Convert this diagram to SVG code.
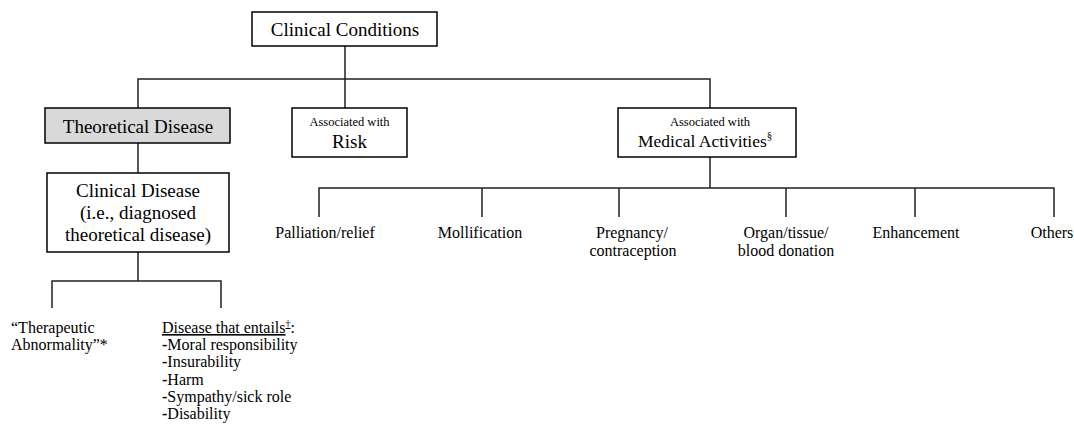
<svg xmlns="http://www.w3.org/2000/svg" width="1074" height="431" viewBox="0 0 1074 431" font-family="'Liberation Serif', 'DejaVu Serif', serif">
<style>
.box{fill:#fff;stroke:#000;stroke-width:1.5}
.gray{fill:#d9d9d9}
.ln{stroke:#222;stroke-width:1.5;fill:none}
text{font-family:'Liberation Serif','DejaVu Serif',serif;fill:#000}
.big{font-size:19px}
.med{font-size:17.5px}
.sm{font-size:12.5px}
.lab{font-size:16px}
.mid{text-anchor:middle}
.b{font-weight:bold}
</style>
<rect width="1074" height="431" fill="#fff"/>
<g id="connectors">
<path class="ln" d="M345 46V108M138 108V79H710V108"/>
<path class="ln" d="M138 143V173"/>
<path class="ln" d="M138 252V281M52 308V281H221V308"/>
<path class="ln" d="M710 157V188M319 217V188H1054V217M482 188V217M619 188V217M786 188V217M915 188V217"/>
</g>
<g id="n-clinical-conditions">
<rect class="box" x="252" y="12" width="185" height="34"/>
<text class="big mid" x="345" y="36">Clinical Conditions</text>
</g>
<g id="n-theoretical">
<rect class="box gray" x="45" y="108" width="185" height="35"/>
<text class="big mid" x="138" y="133">Theoretical Disease</text>
</g>
<g id="n-risk">
<rect class="box" x="292" y="108" width="115" height="49"/>
<text class="sm mid" x="349.5" y="126">Associated with</text>
<text class="big mid" x="349.5" y="148">Risk</text>
</g>
<g id="n-medical">
<rect class="box" x="618" y="108" width="178" height="49"/>
<text class="sm mid" x="710" y="126">Associated with</text>
<text class="med" x="638" y="147">Medical Activities<tspan font-size="11" dy="-8">§</tspan></text>
</g>
<g id="n-clinical-disease">
<rect class="box" x="47" y="173" width="182" height="79"/>
<text class="big mid" x="138" y="197">Clinical Disease</text>
<text class="big mid" x="138" y="219">(i.e., diagnosed</text>
<text class="big mid" x="138" y="241">theoretical disease)</text>
</g>
<g id="n-therapeutic">
<text class="lab" x="11" y="333">“Therapeutic</text>
<text class="lab" x="11" y="350">Abnormality”*</text>
</g>
<g id="n-entails">
<text class="lab" x="162" y="333"><tspan text-decoration="underline">Disease that entails<tspan font-size="10" dy="-6">†</tspan></tspan><tspan dy="6">:</tspan></text>
<text class="lab" x="162" y="350"><tspan class="b">-</tspan>Moral responsibility</text>
<text class="lab" x="162" y="367"><tspan class="b">-</tspan>Insurability</text>
<text class="lab" x="162" y="385"><tspan class="b">-</tspan>Harm</text>
<text class="lab" x="162" y="402"><tspan class="b">-</tspan>Sympathy/sick role</text>
<text class="lab" x="162" y="419"><tspan class="b">-</tspan>Disability</text>
</g>
<g id="n-palliation"><text class="lab mid" x="325" y="238">Palliation/relief</text></g>
<g id="n-mollification"><text class="lab mid" x="480" y="238">Mollification</text></g>
<g id="n-pregnancy"><text class="lab mid" x="632" y="238">Pregnancy/</text><text class="lab mid" x="633" y="256">contraception</text></g>
<g id="n-organ"><text class="lab mid" x="786" y="238">Organ/tissue/</text><text class="lab mid" x="786" y="256">blood donation</text></g>
<g id="n-enhancement"><text class="lab mid" x="916" y="238">Enhancement</text></g>
<g id="n-others"><text class="lab mid" x="1052" y="238">Others</text></g>
</svg>
